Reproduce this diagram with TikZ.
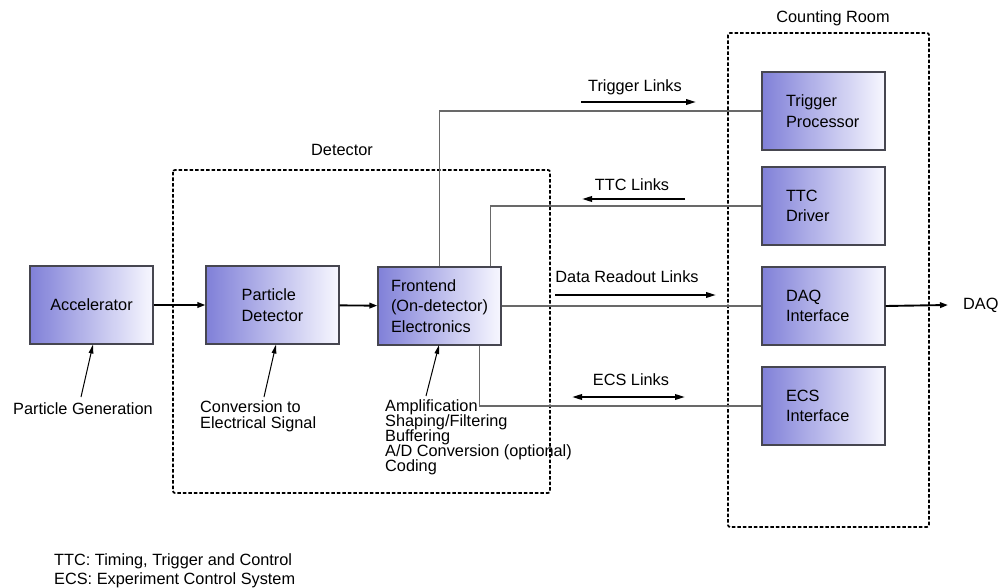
\documentclass[tikz,border=0pt]{standalone}
\usepackage{fontspec}
\setmainfont{Liberation Sans}
\usetikzlibrary{arrows.meta,calc}

\definecolor{boxblue}{RGB}{128,128,216}
\definecolor{boxline}{RGB}{70,70,80}
\definecolor{linkgray}{RGB}{105,105,105}

% text size with a fixed line pitch, no extra lineskip
\newcommand\pitchfont[1]{\fontsize{16.3pt}{#1pt}\selectfont\lineskiplimit=-20pt\relax}

\tikzset{
  block/.style={draw=boxline, line width=1.2pt, left color=boxblue, right color=white!97!blue,
    minimum width=123pt, minimum height=78pt, inner sep=0pt, align=left,
    font=\pitchfont{20.5}},
  module/.style={block, text width=75pt, inner xsep=24pt},
  txt/.style={inner sep=0pt, font=\pitchfont{16}},
  region/.style={draw=black, line width=1.7pt, dash pattern=on 3.5pt off 2pt, rounded corners=2pt},
  flow/.style={line width=1.9pt, -{Triangle[length=8pt,width=5.5pt]}},
  link/.style={draw=linkgray, line width=1.3pt},
  linkarrow/.style={line width=1.9pt, -{Triangle[length=10pt,width=5.5pt]}},
  pointer/.style={line width=1pt, -{Triangle[length=9pt,width=4.5pt]}}
}

\begin{document}
\begin{tikzpicture}[x=1pt,y=-1pt]
\useasboundingbox (0,0) rectangle (1000,588);

% enclosing regions
\draw[region] (173,170) rectangle (550,493);
\node[txt] (detlbl) at (342,150) {Detector};
\draw[region] (728,33) rectangle (929,527);
\node[txt] (crlbl) at (833,18) {Counting Room};

% processing chain
\node[block] (acc) at (91.5,305) {Accelerator};
\node[block, minimum width=133pt] (pd) at (272.5,305) {Particle\\Detector};
\node[block] (fe) at (439.5,306) {Frontend\\(On-detector)\\Electronics};

% counting room modules
\node[module] (tp)  at (823.5,111) {Trigger\\Processor};
\node[module] (ttc) at (823.5,206) {TTC\\Driver};
\node[module] (daq) at (823.5,306) {DAQ\\Interface};
\node[module] (ecs) at (823.5,406) {ECS\\Interface};

\draw[flow] (acc) -- (pd);
\draw[flow] (pd) -- (fe);

% links between frontend and counting room
\draw[link] (fe.north) |- (tp.west);
\draw[link] ($(fe.north east)+(-11,0)$) |- (ttc.west);
\draw[link] (fe.east) -- (daq.west);
\draw[link] ($(fe.south east)+(-22,0)$) |- (ecs.west);

% link labels with direction arrows
\node[txt] (trl) at (635,87) {Trigger Links};
\draw[linkarrow] (581,102) -- (696,102);
\node[txt] (ttl) at (632,185) {TTC Links};
\draw[linkarrow] (685,199) -- (582,199);
\node[txt] (drl) at (627,277) {Data Readout Links};
\draw[linkarrow] (555,295) -- (716,295);
\node[txt] (ecl) at (631,380) {ECS Links};
\draw[line width=1.9pt, {Triangle[length=10pt,width=5.5pt]}-{Triangle[length=10pt,width=5.5pt]}] (572,397) -- (685,397);

% output
\node[txt, anchor=west] (daqout) at (963,305) {DAQ};
\draw[flow] (daq.east) -- ([xshift=-15pt]daqout.west);

% annotations
\node[txt, anchor=west] (gen) at (13,409) {Particle Generation};
\draw[pointer] (81,397) -- (93,344.5);
\node[txt, anchor=west, align=left] (conv) at (200,416) {Conversion to\\Electrical Signal};
\draw[pointer] (264,397) -- (276,344.5);
\node[txt, anchor=west, align=left, font=\pitchfont{15}] (fefun) at (385,437)
  {Amplification\\Shaping/Filtering\\Buffering\\A/D Conversion (optional)\\Coding};
\draw[pointer] (426,396) -- (439,345);

% abbreviations
\node[txt, anchor=west, align=left, font=\pitchfont{19.5}] (abbr) at (54,571)
  {TTC: Timing, Trigger and Control\\ECS: Experiment Control System};
\end{tikzpicture}
\end{document}
